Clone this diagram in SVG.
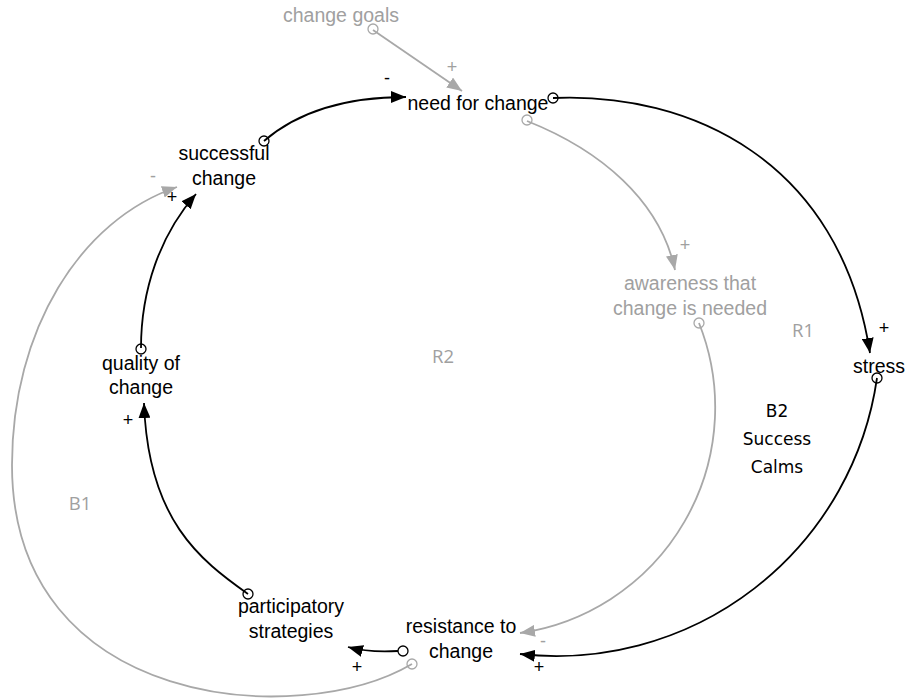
<svg xmlns="http://www.w3.org/2000/svg" width="906" height="699" viewBox="0 0 906 699">
<style>
.t{font-family:"Liberation Sans",Arial,sans-serif;font-size:19.5px;text-anchor:middle;fill:#000}
.g{fill:#a0a0a0}
.s{font-family:"Liberation Sans",Arial,sans-serif;font-size:18px;text-anchor:middle}
.lp{font-family:"Open Sans","Liberation Sans",sans-serif;font-size:18.5px;text-anchor:middle;fill:#a0a0a0}
.b2{font-family:"Comic Sans MS","DejaVu Sans",sans-serif;font-size:17px;text-anchor:middle;fill:#000}
.lk{fill:none;stroke:#000;stroke-width:1.8}
.lg{fill:none;stroke:#a8a8a8;stroke-width:1.8}
.ck{fill:none;stroke:#000;stroke-width:1.3}
.cg{fill:none;stroke:#a8a8a8;stroke-width:1.3}
</style>
<defs>
<marker id="ak" markerUnits="userSpaceOnUse" markerWidth="16" markerHeight="12" refX="15" refY="6" orient="auto"><path d="M0,0 L15,6 L0,12 z" fill="#000"/></marker>
<marker id="ag" markerUnits="userSpaceOnUse" markerWidth="16" markerHeight="12" refX="15" refY="6" orient="auto"><path d="M0,0 L15,6 L0,12 z" fill="#a8a8a8"/></marker>
</defs>
<g id="connectors">
<path class="lg" d="M373,30 L462,91" marker-end="url(#ag)"/>
<path class="lk" d="M553,98 C690,92 840,160 870,353" marker-end="url(#ak)"/>
<path class="lg" d="M527,121 C600,150 660,200 675,270" marker-end="url(#ag)"/>
<path class="lg" d="M699,323 A228,228 0 0 1 520,633" marker-end="url(#ag)"/>
<path class="lk" d="M877,378 A324,324 0 0 1 520,654" marker-end="url(#ak)"/>
<path class="lk" d="M398,651 C382,652 366,652 348,647" marker-end="url(#ak)"/>
<path class="lg" d="M412,664 C300,730 12,710 12,465 C12,330 80,220 177,187" marker-end="url(#ag)"/>
<path class="lk" d="M248,594 C200,560 148,520 144,403" marker-end="url(#ak)"/>
<path class="lk" d="M141,348 C141,290 160,235 196,194" marker-end="url(#ak)"/>
<path class="lk" d="M264,141 C300,110 350,97 406,97" marker-end="url(#ak)"/>
</g>
<g id="change-goals"><text class="t g" x="341" y="22">change goals</text><circle class="cg" cx="373" cy="29" r="5"/></g>
<g id="need-for-change"><text class="t" x="478" y="110">need for change</text><circle class="ck" cx="553" cy="98" r="5"/><circle class="cg" cx="527" cy="120" r="5"/></g>
<g id="awareness"><text class="t g" x="690" y="290">awareness that</text><text class="t g" x="690" y="315">change is needed</text><circle class="cg" cx="699" cy="323" r="5"/></g>
<g id="stress"><text class="t" x="879" y="373">stress</text><circle class="ck" cx="877" cy="378" r="5"/></g>
<g id="resistance"><text class="t" x="461" y="633">resistance to</text><text class="t" x="461" y="658">change</text><circle class="ck" cx="403" cy="651" r="5"/><circle class="cg" cx="412" cy="664" r="5"/></g>
<g id="participatory"><text class="t" x="291" y="613">participatory</text><text class="t" x="291" y="638">strategies</text><circle class="ck" cx="248" cy="594" r="5"/></g>
<g id="quality"><text class="t" x="141" y="370">quality of</text><text class="t" x="141" y="394">change</text><circle class="ck" cx="141" cy="349" r="5"/></g>
<g id="successful"><text class="t" x="224" y="160">successful</text><text class="t" x="224" y="185">change</text><circle class="ck" cx="264" cy="141" r="5"/></g>
<g id="signs">
<text class="s" x="452" y="73" fill="#a0a0a0">+</text>
<text class="s" x="387" y="84" fill="#000">-</text>
<text class="s" x="685" y="251" fill="#a0a0a0">+</text>
<text class="s" x="884" y="334" fill="#000">+</text>
<text class="s" x="543" y="647" fill="#a0a0a0">-</text>
<text class="s" x="539" y="673" fill="#000">+</text>
<text class="s" x="357" y="673" fill="#000">+</text>
<text class="s" x="153" y="182" fill="#a0a0a0">-</text>
<text class="s" x="172" y="203" fill="#000">+</text>
<text class="s" x="128" y="426" fill="#000">+</text>
</g>
<g id="loops">
<text class="lp" x="803" y="337">R1</text>
<text class="lp" x="443" y="363">R2</text>
<text class="lp" x="80" y="510">B1</text>
<text class="b2" x="777" y="417">B2</text>
<text class="b2" x="777" y="445">Success</text>
<text class="b2" x="777" y="473">Calms</text>
</g>
</svg>
